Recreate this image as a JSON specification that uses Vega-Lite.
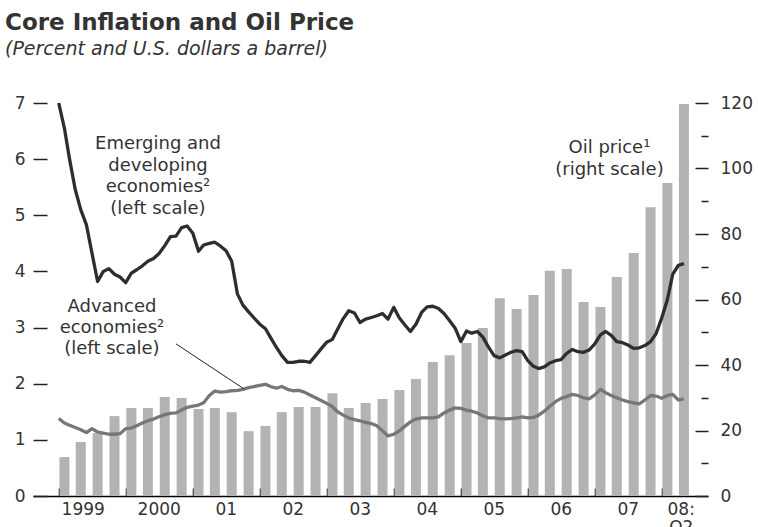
{
  "$schema": "https://vega.github.io/schema/vega-lite/v6.json",
  "width": 675,
  "height": 393,
  "autosize": {"type": "none"},
  "padding": {"left": 33, "top": 103, "right": 50, "bottom": 31},
  "background": "white",
  "title": {
    "text": "Core Inflation and Oil Price",
    "subtitle": "(Percent and U.S. dollars a barrel)",
    "anchor": "start",
    "frame": "group",
    "dx": -28,
    "offset": 35,
    "font": "DejaVu Sans",
    "fontSize": 23,
    "fontWeight": "bold",
    "color": "#333333",
    "subtitleFont": "DejaVu Sans",
    "subtitleFontSize": 19,
    "subtitleFontStyle": "italic",
    "subtitleColor": "#333333",
    "subtitlePadding": 5
  },
  "config": {
    "view": {"stroke": null},
    "font": "DejaVu Sans",
    "axis": {
      "labelFont": "DejaVu Sans",
      "labelFontSize": 17,
      "labelColor": "#333333",
      "tickColor": "#222222",
      "tickWidth": 1.5,
      "grid": false,
      "domain": false,
      "labelOverlap": false,
      "labelFlush": false
    }
  },
  "datasets": {
    "oil": [
      {"d": "1999-02-01", "p": 11.9}, {"d": "1999-05-01", "p": 16.5}, {"d": "1999-08-01", "p": 19.2}, {"d": "1999-11-01", "p": 24.4},
      {"d": "2000-02-01", "p": 26.9}, {"d": "2000-05-01", "p": 26.9}, {"d": "2000-08-01", "p": 30.2}, {"d": "2000-11-01", "p": 29.9},
      {"d": "2001-02-01", "p": 26.6}, {"d": "2001-05-01", "p": 26.9}, {"d": "2001-08-01", "p": 25.6}, {"d": "2001-11-01", "p": 19.8},
      {"d": "2002-02-01", "p": 21.4}, {"d": "2002-05-01", "p": 25.6}, {"d": "2002-08-01", "p": 27.2}, {"d": "2002-11-01", "p": 27.2},
      {"d": "2003-02-01", "p": 31.4}, {"d": "2003-05-01", "p": 26.9}, {"d": "2003-08-01", "p": 28.4}, {"d": "2003-11-01", "p": 29.6},
      {"d": "2004-02-01", "p": 32.4}, {"d": "2004-05-01", "p": 35.7}, {"d": "2004-08-01", "p": 40.9}, {"d": "2004-11-01", "p": 43.0},
      {"d": "2005-02-01", "p": 46.7}, {"d": "2005-05-01", "p": 51.3}, {"d": "2005-08-01", "p": 60.4}, {"d": "2005-11-01", "p": 57.1},
      {"d": "2006-02-01", "p": 61.4}, {"d": "2006-05-01", "p": 68.8}, {"d": "2006-08-01", "p": 69.3}, {"d": "2006-11-01", "p": 59.2},
      {"d": "2007-02-01", "p": 57.7}, {"d": "2007-05-01", "p": 66.9}, {"d": "2007-08-01", "p": 74.2}, {"d": "2007-11-01", "p": 88.2},
      {"d": "2008-02-01", "p": 95.6}, {"d": "2008-05-01", "p": 119.7}
    ],
    "core": [
      {"d": "1999-01-01", "em": 7.0, "adv": 1.38}, {"d": "1999-02-01", "em": 6.55, "adv": 1.30}, {"d": "1999-03-01", "em": 6.0, "adv": 1.26},
      {"d": "1999-04-01", "em": 5.46, "adv": 1.22}, {"d": "1999-05-01", "em": 5.10, "adv": 1.18}, {"d": "1999-06-01", "em": 4.83, "adv": 1.13},
      {"d": "1999-07-01", "em": 4.33, "adv": 1.20}, {"d": "1999-08-01", "em": 3.82, "adv": 1.14}, {"d": "1999-09-01", "em": 4.0, "adv": 1.12},
      {"d": "1999-10-01", "em": 4.05, "adv": 1.10}, {"d": "1999-11-01", "em": 3.95, "adv": 1.10}, {"d": "1999-12-01", "em": 3.9, "adv": 1.11},
      {"d": "2000-01-01", "em": 3.8, "adv": 1.20}, {"d": "2000-02-01", "em": 3.97, "adv": 1.21}, {"d": "2000-03-01", "em": 4.03, "adv": 1.25},
      {"d": "2000-04-01", "em": 4.10, "adv": 1.30}, {"d": "2000-05-01", "em": 4.18, "adv": 1.34}, {"d": "2000-06-01", "em": 4.23, "adv": 1.37},
      {"d": "2000-07-01", "em": 4.32, "adv": 1.41}, {"d": "2000-08-01", "em": 4.46, "adv": 1.45}, {"d": "2000-09-01", "em": 4.62, "adv": 1.47},
      {"d": "2000-10-01", "em": 4.63, "adv": 1.48}, {"d": "2000-11-01", "em": 4.78, "adv": 1.53}, {"d": "2000-12-01", "em": 4.81, "adv": 1.58},
      {"d": "2001-01-01", "em": 4.68, "adv": 1.60}, {"d": "2001-02-01", "em": 4.36, "adv": 1.62}, {"d": "2001-03-01", "em": 4.47, "adv": 1.66},
      {"d": "2001-04-01", "em": 4.50, "adv": 1.79}, {"d": "2001-05-01", "em": 4.52, "adv": 1.87}, {"d": "2001-06-01", "em": 4.45, "adv": 1.85},
      {"d": "2001-07-01", "em": 4.37, "adv": 1.86}, {"d": "2001-08-01", "em": 4.18, "adv": 1.875}, {"d": "2001-09-01", "em": 3.60, "adv": 1.88},
      {"d": "2001-10-01", "em": 3.40, "adv": 1.90}, {"d": "2001-11-01", "em": 3.28, "adv": 1.93}, {"d": "2001-12-01", "em": 3.17, "adv": 1.95},
      {"d": "2002-01-01", "em": 3.06, "adv": 1.97}, {"d": "2002-02-01", "em": 2.98, "adv": 1.99}, {"d": "2002-03-01", "em": 2.82, "adv": 1.95},
      {"d": "2002-04-01", "em": 2.65, "adv": 1.92}, {"d": "2002-05-01", "em": 2.50, "adv": 1.95}, {"d": "2002-06-01", "em": 2.38, "adv": 1.90},
      {"d": "2002-07-01", "em": 2.38, "adv": 1.875}, {"d": "2002-08-01", "em": 2.40, "adv": 1.88}, {"d": "2002-09-01", "em": 2.40, "adv": 1.85},
      {"d": "2002-10-01", "em": 2.38, "adv": 1.80}, {"d": "2002-11-01", "em": 2.50, "adv": 1.75}, {"d": "2002-12-01", "em": 2.62, "adv": 1.70},
      {"d": "2003-01-01", "em": 2.74, "adv": 1.65}, {"d": "2003-02-01", "em": 2.79, "adv": 1.59}, {"d": "2003-03-01", "em": 2.97, "adv": 1.50},
      {"d": "2003-04-01", "em": 3.16, "adv": 1.44}, {"d": "2003-05-01", "em": 3.30, "adv": 1.39}, {"d": "2003-06-01", "em": 3.26, "adv": 1.36},
      {"d": "2003-07-01", "em": 3.09, "adv": 1.34}, {"d": "2003-08-01", "em": 3.15, "adv": 1.31}, {"d": "2003-09-01", "em": 3.18, "adv": 1.29},
      {"d": "2003-10-01", "em": 3.21, "adv": 1.25}, {"d": "2003-11-01", "em": 3.25, "adv": 1.16}, {"d": "2003-12-01", "em": 3.15, "adv": 1.07},
      {"d": "2004-01-01", "em": 3.36, "adv": 1.10}, {"d": "2004-02-01", "em": 3.17, "adv": 1.16}, {"d": "2004-03-01", "em": 3.05, "adv": 1.24},
      {"d": "2004-04-01", "em": 2.93, "adv": 1.32}, {"d": "2004-05-01", "em": 3.06, "adv": 1.37}, {"d": "2004-06-01", "em": 3.27, "adv": 1.39},
      {"d": "2004-07-01", "em": 3.37, "adv": 1.39}, {"d": "2004-08-01", "em": 3.38, "adv": 1.39}, {"d": "2004-09-01", "em": 3.34, "adv": 1.41},
      {"d": "2004-10-01", "em": 3.25, "adv": 1.48}, {"d": "2004-11-01", "em": 3.12, "adv": 1.53}, {"d": "2004-12-01", "em": 2.99, "adv": 1.57},
      {"d": "2005-01-01", "em": 2.75, "adv": 1.56}, {"d": "2005-02-01", "em": 2.94, "adv": 1.53}, {"d": "2005-03-01", "em": 2.90, "adv": 1.51},
      {"d": "2005-04-01", "em": 2.93, "adv": 1.48}, {"d": "2005-05-01", "em": 2.83, "adv": 1.43}, {"d": "2005-06-01", "em": 2.65, "adv": 1.39},
      {"d": "2005-07-01", "em": 2.50, "adv": 1.39}, {"d": "2005-08-01", "em": 2.46, "adv": 1.38}, {"d": "2005-09-01", "em": 2.51, "adv": 1.375},
      {"d": "2005-10-01", "em": 2.56, "adv": 1.38}, {"d": "2005-11-01", "em": 2.59, "adv": 1.39}, {"d": "2005-12-01", "em": 2.57, "adv": 1.41},
      {"d": "2006-01-01", "em": 2.41, "adv": 1.39}, {"d": "2006-02-01", "em": 2.31, "adv": 1.40}, {"d": "2006-03-01", "em": 2.27, "adv": 1.44},
      {"d": "2006-04-01", "em": 2.30, "adv": 1.51}, {"d": "2006-05-01", "em": 2.37, "adv": 1.60}, {"d": "2006-06-01", "em": 2.41, "adv": 1.68},
      {"d": "2006-07-01", "em": 2.43, "adv": 1.74}, {"d": "2006-08-01", "em": 2.54, "adv": 1.77}, {"d": "2006-09-01", "em": 2.61, "adv": 1.81},
      {"d": "2006-10-01", "em": 2.57, "adv": 1.79}, {"d": "2006-11-01", "em": 2.56, "adv": 1.75}, {"d": "2006-12-01", "em": 2.60, "adv": 1.73},
      {"d": "2007-01-01", "em": 2.71, "adv": 1.80}, {"d": "2007-02-01", "em": 2.87, "adv": 1.90}, {"d": "2007-03-01", "em": 2.93, "adv": 1.84},
      {"d": "2007-04-01", "em": 2.86, "adv": 1.79}, {"d": "2007-05-01", "em": 2.75, "adv": 1.75}, {"d": "2007-06-01", "em": 2.73, "adv": 1.71},
      {"d": "2007-07-01", "em": 2.69, "adv": 1.68}, {"d": "2007-08-01", "em": 2.63, "adv": 1.66}, {"d": "2007-09-01", "em": 2.64, "adv": 1.64},
      {"d": "2007-10-01", "em": 2.68, "adv": 1.71}, {"d": "2007-11-01", "em": 2.75, "adv": 1.79}, {"d": "2007-12-01", "em": 2.89, "adv": 1.78},
      {"d": "2008-01-01", "em": 3.17, "adv": 1.74}, {"d": "2008-02-01", "em": 3.50, "adv": 1.79}, {"d": "2008-03-01", "em": 3.95, "adv": 1.81},
      {"d": "2008-04-01", "em": 4.11, "adv": 1.71}, {"d": "2008-05-01", "em": 4.14, "adv": 1.73}
    ]
  },
  "layer": [
    {
      "data": {"name": "oil"},
      "mark": {"type": "bar", "size": 10, "color": "#b3b3b3"},
      "encoding": {
        "x": {
          "field": "d",
          "type": "temporal",
          "title": null,
          "scale": {"domain": [{"year": 1998, "month": 9, "date": 10}, {"year": 2008, "month": 8, "date": 13}]},
          "axis": {
            "title": null,
            "values": [
              {"year": 1999, "month": 1, "date": 1}, {"year": 2000, "month": 1, "date": 1}, {"year": 2001, "month": 1, "date": 1},
              {"year": 2002, "month": 1, "date": 1}, {"year": 2003, "month": 1, "date": 1}, {"year": 2004, "month": 1, "date": 1},
              {"year": 2005, "month": 1, "date": 1}, {"year": 2006, "month": 1, "date": 1}, {"year": 2007, "month": 1, "date": 1},
              {"year": 2008, "month": 1, "date": 1}
            ],
            "labelExpr": "year(datum.value) < 2001 ? '' + year(datum.value) : (year(datum.value) == 2008 ? ['08:', 'Q2'] : '0' + (year(datum.value) - 2000))",
            "labelOffset": {"condition": [{"test": "year(datum.value) == 1999", "value": 24}, {"test": "year(datum.value) == 2008", "value": 19}], "value": 33},
            "labelAlign": "center",
            "labelBaseline": "top",
            "labelLineHeight": 18,
            "tickSize": -8,
            "labelPadding": 13,
            "domain": true,
            "domainColor": "#000000",
            "domainWidth": 1.5,
            "tickColor": "#000000"
          }
        },
        "y": {
          "field": "p",
          "type": "quantitative",
          "title": null,
          "scale": {"domain": [0, 120], "nice": false},
          "axis": {
            "title": null,
            "orient": "right",
            "values": [0, 10, 20, 30, 40, 50, 60, 70, 80, 90, 100, 110, 120],
            "format": "d",
            "labelExpr": "datum.value % 20 ? '' : datum.label",
            "tickSize": {"condition": {"test": "datum.value % 20 != 0", "value": -7}, "value": -13},
            "labelPadding": 25
          }
        }
      }
    },
    {
      "data": {"name": "core"},
      "layer": [
        {
          "transform": [{"fold": ["adv", "em"], "as": ["s", "v"]}],
          "mark": {"type": "line", "strokeWidth": 3.3, "strokeJoin": "round"},
          "encoding": {
            "x": {"field": "d", "type": "temporal", "title": null},
            "y": {
              "field": "v",
              "type": "quantitative",
              "title": null,
              "scale": {"domain": [0, 7], "nice": false},
              "axis": {
                "title": null,
                "orient": "left",
                "values": [0, 0.5, 1, 1.5, 2, 2.5, 3, 3.5, 4, 4.5, 5, 5.5, 6, 6.5, 7],
                "format": ".0f",
                "labelExpr": "datum.value % 1 ? '' : datum.label",
                "tickSize": {"condition": {"test": "datum.value % 1 != 0", "value": -9}, "value": -14},
                "labelPadding": 22
              }
            },
            "color": {"field": "s", "type": "nominal", "scale": {"domain": ["adv", "em"], "range": ["#777777", "#2e2e2e"]}, "legend": null}
          }
        },
        {
          "data": {"values": [{}]},
          "mark": {"type": "text", "text": ["Emerging and", "developing", "economies²", "(left scale)"], "align": "center", "baseline": "alphabetic", "lineHeight": 21.5, "fontSize": 18, "font": "DejaVu Sans", "color": "#333333"},
          "encoding": {
            "x": {"datum": {"year": 2000, "month": 6, "date": 25}, "type": "temporal", "title": null},
            "y": {"datum": 6.18, "type": "quantitative", "title": null}
          }
        },
        {
          "data": {"values": [{}]},
          "mark": {"type": "text", "text": ["Advanced", "economies²", "(left scale)"], "align": "center", "baseline": "alphabetic", "lineHeight": 21, "fontSize": 18, "font": "DejaVu Sans", "color": "#333333"},
          "encoding": {
            "x": {"datum": {"year": 1999, "month": 10, "date": 18}, "type": "temporal", "title": null},
            "y": {"datum": 3.27, "type": "quantitative", "title": null}
          }
        },
        {
          "data": {"values": [{}]},
          "mark": {"type": "text", "text": ["Oil price¹", "(right scale)"], "align": "center", "baseline": "alphabetic", "lineHeight": 22, "fontSize": 18, "font": "DejaVu Sans", "color": "#333333"},
          "encoding": {
            "x": {"datum": {"year": 2007, "month": 3, "date": 22}, "type": "temporal", "title": null},
            "y": {"datum": 6.11, "type": "quantitative", "title": null}
          }
        },
        {
          "data": {"values": [{}]},
          "mark": {"type": "rule", "color": "#222222", "strokeWidth": 1},
          "encoding": {
            "x": {"datum": {"year": 2000, "month": 10, "date": 1}, "type": "temporal", "title": null},
            "y": {"datum": 2.71, "type": "quantitative", "title": null},
            "x2": {"datum": {"year": 2001, "month": 10, "date": 6}},
            "y2": {"datum": 1.91}
          }
        }
      ]
    }
  ],
  "resolve": {"scale": {"y": "independent"}}
}
